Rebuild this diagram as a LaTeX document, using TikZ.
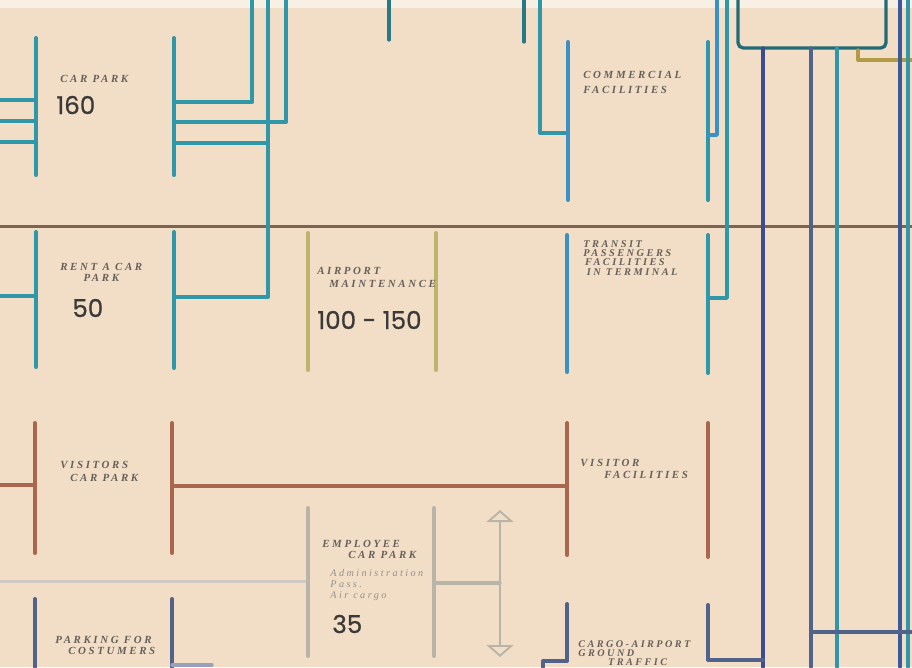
\documentclass[tikz,border=0pt]{standalone}
\usepackage{fontspec}
\newfontfamily\lblfont[LetterSpace=24]{Liberation Serif}
\newfontfamily\numfont[FakeBold=0.7]{Poppins}
\usetikzlibrary{arrows.meta}
\definecolor{paper}{HTML}{F2DEC6}
\definecolor{cteal}{HTML}{3097A8}
\definecolor{cblue}{HTML}{3A92C4}
\definecolor{cnavy}{HTML}{3D4C8E}
\definecolor{cslate}{HTML}{51638A}
\definecolor{crust}{HTML}{A8674E}
\definecolor{cbrown}{HTML}{7E6450}
\definecolor{ckhaki}{HTML}{BFB46E}
\definecolor{cgray}{HTML}{B9B4A8}
\definecolor{cgold}{HTML}{B39A45}
\definecolor{ink}{HTML}{66605A}
\definecolor{numink}{HTML}{3B3A38}
\tikzset{
  bar/.style   = {line width=2.3pt, line cap=round, line join=round},
  wire/.style  = {line width=1.9pt, line cap=round, line join=round},
  zone/.style  = {line width=1.7pt},
  lbl/.style   = {font=\lblfont\bfseries\itshape\fontsize{6.2}{#1}\selectfont, text=ink,
                  align=left, inner sep=0pt, anchor=north west},
  lbl/.default = 7,
  sub/.style   = {lbl=6.3, text=ink!70, font=\lblfont\itshape\fontsize{5.8}{6.3}\selectfont},
  num/.style   = {font=\numfont\fontsize{14}{14}\selectfont, text=numink,
                  inner sep=0pt, anchor=west},
  both ways/.style = {{Triangle[open, length=2.4mm, width=5.4mm]}-{Triangle[open, length=2.4mm, width=5.4mm]},
                  line width=1.1pt, cgray},
}

\begin{document}
\begin{tikzpicture}[x=0.02cm, y=-0.02cm]
    \clip (0,0) rectangle (912,667);
    \fill[paper] (0,0) rectangle (912,667);
    \fill[white!55!paper] (0,0) rectangle (912,8);

    % zone boundaries
    \draw[zone, cbrown] (0,226) -- (912,226);
    \draw[zone, cgray!70] (0,581) -- (308,581);

    % car park and commercial row
    \draw[bar, cteal] (36,38) -- (36,175);
    \foreach \y in {100,121,142}
      \draw[bar, cteal] (0,\y) -- (36,\y);
    \draw[bar, cteal] (174,38) -- (174,175);
    \draw[bar, cteal] (174,102) -- (252,102) -- (252,0);
    \draw[bar, cteal] (174,122) -- (286,122) -- (286,0);
    \draw[bar, cteal] (174,143) -- (268,143);
    \draw[bar, cteal] (268,0) -- (268,297) -- (174,297);
    \draw[wire, cteal!80!black] (389,0) -- (389,40);
    \draw[wire, cteal!80!black] (524,0) -- (524,42);
    \draw[wire, cteal] (540,0) -- (540,133) -- (568,133);
    \draw[bar, cblue] (568,42) -- (568,200);
    \draw[bar, cteal] (708,42) -- (708,200);
    \draw[wire, cblue] (717,0) -- (717,135) -- (708,135);
    \draw[wire, cteal] (727,0) -- (727,298) -- (708,298);

    % terminal box and trunk lines
    \draw[wire, cteal!70!black, rounded corners=3pt] (738,0) -- (738,48) -- (886,48) -- (886,0);
    \draw[wire, cgold] (858,50) -- (858,60) -- (912,60);
    \draw[wire, cnavy] (763,48) -- (763,667);
    \draw[wire, cslate] (811,48) -- (811,667);
    \draw[wire, cteal] (837,48) -- (837,667);
    \draw[wire, cnavy!80!cblue] (900,0) -- (900,667);
    \draw[wire, cteal] (908,0) -- (908,667);
    \draw[wire, cslate] (811,632) -- (912,632);

    \node[lbl] (carpark) at (60,75) {CAR PARK};
    \node[num] (n160) at (56,105) {160};
    \node[lbl=8.5] (commerce) at (583,71) {COMMERCIAL\\FACILITIES};

    % rent a car and maintenance row
    \draw[bar, cteal] (36,232) -- (36,367);
    \draw[bar, cteal] (0,296) -- (36,296);
    \draw[bar, cteal] (174,232) -- (174,368);
    \draw[bar, ckhaki] (308,233) -- (308,370);
    \draw[bar, ckhaki] (436,233) -- (436,370);
    \draw[bar, cblue] (567,235) -- (567,372);
    \draw[bar, cteal] (708,235) -- (708,373);

    \node[lbl=6.3, align=center] (rentacar) at (60,263) {RENT A CAR\\PARK};
    \node[num] (n50) at (72,308) {50};
    \node[lbl=7.4] (maint) at (317,267) {AIRPORT\\\hspace*{6.8pt}MAINTENANCE};
    \node[num] (n100) at (317,320) {100 - 150};
    \node[lbl=5.3, font=\lblfont\bfseries\itshape\fontsize{5.9}{5.3}\selectfont] (transit) at (583,240)
      {TRANSIT\\PASSENGERS\\\hspace*{1pt}FACILITIES\\\hspace*{2pt}IN TERMINAL};

    % visitors row
    \draw[bar, crust] (35,423) -- (35,553);
    \draw[bar, crust] (0,485) -- (35,485);
    \draw[bar, crust] (172,423) -- (172,553);
    \draw[bar, crust] (172,486) -- (567,486);
    \draw[bar, crust] (567,423) -- (567,555);
    \draw[bar, crust] (708,423) -- (708,557);

    \node[lbl=7.4] (visitors) at (60,461) {VISITORS\\\hspace*{5.7pt}CAR PARK};
    \node[lbl=6.8] (visfac) at (580,459) {VISITOR\\\hspace*{13.6pt}FACILITIES};

    % employee car park
    \draw[bar, cgray] (308,508) -- (308,656);
    \draw[bar, cgray] (434,508) -- (434,656);
    \draw[wire, cgray] (434,583) -- (500,583);
    \draw[both ways] (500,510) -- (500,657);

    \node[lbl=6.3] (employee) at (322,540) {EMPLOYEE\\\hspace*{14.8pt}CAR PARK};
    \node[sub] (admin) at (330,569) {Administration\\Pass.\\Air cargo};
    \node[num] (n35) at (332,624) {35};

    % customers and cargo row
    \draw[bar, cslate] (35,599) -- (35,667);
    \draw[bar, cslate] (172,599) -- (172,667);
    \draw[wire, cslate!60] (172,665) -- (212,665);
    \draw[bar, cslate] (567,604) -- (567,661) -- (543,661) -- (543,667);
    \draw[bar, cslate] (708,605) -- (708,660) -- (763,660);

    \node[lbl=6.3] (costumers) at (55,636) {PARKING FOR\\\hspace*{7.4pt}COSTUMERS};
    \node[lbl=5.3, font=\lblfont\bfseries\itshape\fontsize{5.8}{5.3}\selectfont] (cargo) at (578,640)
      {CARGO-AIRPORT\\GROUND\\\hspace*{17pt}TRAFFIC};
\end{tikzpicture}
\end{document}
